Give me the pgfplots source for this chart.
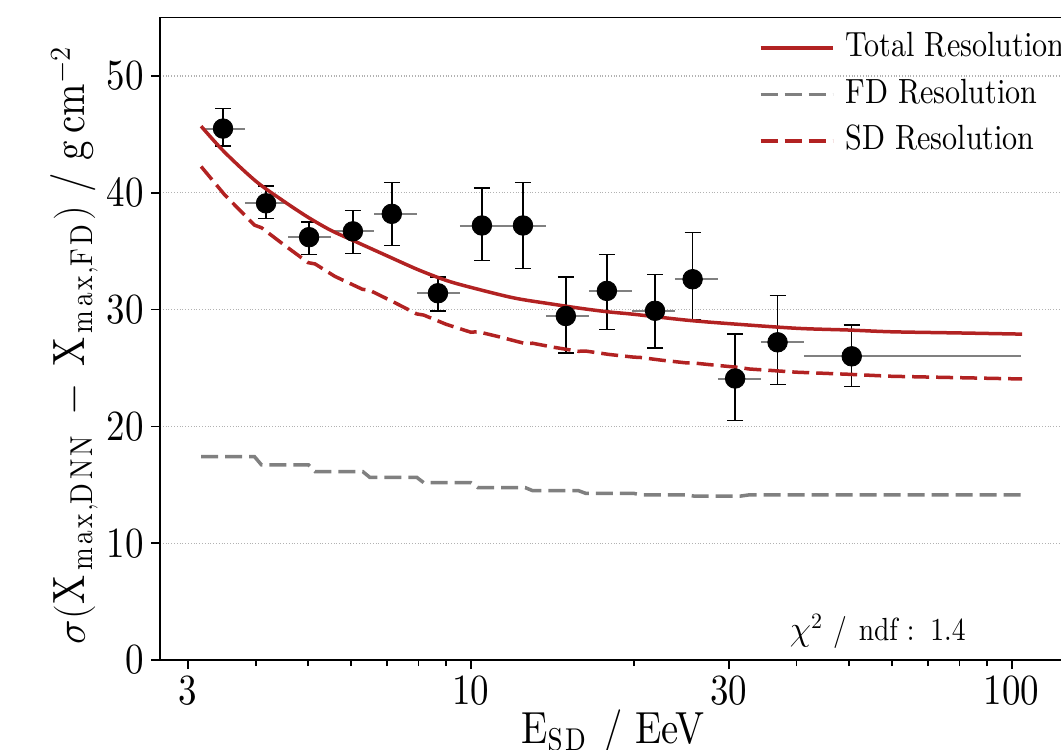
\documentclass[border=0pt]{standalone}
\usepackage{fontspec}
\setmainfont{lmroman10-regular.otf}[FakeStretch=0.86]
\usepackage{pgfplots}
\usepackage{pgfplotstable}
\pgfplotsset{compat=1.18}
\definecolor{fire}{RGB}{178,34,34}
\definecolor{fdgray}{RGB}{128,128,128}

\pgfplotstableread{
x y yp ym
3.48 45.5 1.7 1.5
4.18 39.1 1.5 1.3
5.02 36.2 1.3 1.5
6.05 36.7 1.8 1.9
7.14 38.2 2.7 2.7
8.69 31.4 1.4 1.5
10.48 37.2 3.2 3.0
12.48 37.2 3.7 3.7
14.98 29.45 3.35 3.15
17.84 31.6 3.1 3.3
21.9 29.9 3.1 3.2
25.7 32.6 4.0 3.5
30.8 24.1 3.8 3.6
36.9 27.2 4.0 3.6
50.6 26.0 2.7 2.6
}\datatab

\pgfplotstableread{
x y
3.22 45.5
3.82 45.5
3.82 nan
3.82 39.1
4.59 39.1
4.59 nan
4.59 36.2
5.51 36.2
5.51 nan
5.51 36.7
6.62 36.7
6.62 nan
6.62 38.2
7.95 38.2
7.95 nan
7.95 31.4
9.54 31.4
9.54 nan
9.54 37.2
11.46 37.2
11.46 nan
11.46 37.2
13.76 37.2
13.76 nan
13.76 29.45
16.52 29.45
16.52 nan
16.52 31.6
19.84 31.6
19.84 nan
19.84 29.9
23.83 29.9
23.83 nan
23.83 32.6
28.61 32.6
28.61 nan
28.61 24.1
34.36 24.1
34.36 nan
34.36 27.2
41.26 27.2
41.26 nan
41.26 26.0
104 26.0
}\bintab

\pgfplotstableread{
x y
3.17 45.7
3.5 43.5
4.0 41.0
4.5 39.3
5.0 37.9
5.5 36.8
6.0 36.0
7.0 34.6
8.0 33.4
9.0 32.5
10 31.9
12 31.0
14 30.5
16 30.1
18 29.8
20 29.6
25 29.1
30 28.8
40 28.4
50 28.25
60 28.1
80 28.0
104.5 27.9
}\tottab

\pgfplotstableread{
x y
3.17 17.41
3.98 17.41
4.10 16.70
5.01 16.70
5.15 16.13
6.31 16.13
6.50 15.64
7.94 15.64
8.18 15.18
10.0 15.18
10.3 14.76
12.6 14.76
13.0 14.50
15.8 14.50
16.3 14.27
20.0 14.27
20.6 14.13
25.1 14.13
25.8 14.04
31.6 14.04
32.6 14.13
104.5 14.13
}\fdtab

\pgfplotstableread{
x y
3.17 42.25
3.5 39.86
3.98 37.23
4.1 37.01
4.5 35.58
5.0 34.02
5.15 33.91
5.6 32.85
6.3 31.74
6.5 31.65
7.2 30.64
7.94 29.63
8.18 29.53
9 28.74
10 28.06
10.3 28.11
11.3 27.66
12.6 27.09
13.0 27.12
14.2 26.78
15.8 26.43
16.3 26.45
18 26.16
20 25.93
20.6 25.90
22.5 25.67
25 25.44
25.8 25.43
28 25.26
31.6 25.03
32.6 24.92
40 24.64
50 24.46
60 24.29
80 24.17
104.5 24.06
}\sdtab

\begin{document}
\begin{tikzpicture}
\begin{axis}[
  scale only axis,
  width=453pt, height=321.2pt,
  xmode=log,
  xmin=2.661, xmax=126,
  ymin=0, ymax=55,
  xtick={3,10,30,100},
  xticklabels={3,10,30,100},
  minor xtick={4,5,6,7,8,9,20,40,50,60,70,80,90},
  ytick={0,10,20,30,40,50},
  /pgf/number format/assume math mode=true,
  tick align=outside,
  xtick pos=left, ytick pos=left,
  major tick length=4.5pt,
  minor tick length=3pt,
  tick style={black, line width=0.8pt},
  axis line style={black, line width=0.85pt},
  ymajorgrids,
  grid style={densely dotted, black!30, line width=0.6pt},
  tick label style={font=\fontsize{21.5}{24}\selectfont},
  xlabel={E$_{\mathrm{SD}}$ / EeV},
  ylabel={$\sigma(\mathrm{X}_{\mathrm{max{,}DNN}}\,-\,\mathrm{X}_{\mathrm{max{,}FD}})$ / g\,cm$^{-2}$},
  xlabel style={font=\fontsize{22.5}{25}\selectfont, at={(axis description cs:0.5,0)}, anchor=base, yshift=-41.5pt},
  ylabel style={font=\fontsize{22.6}{25}\selectfont, at={(axis description cs:-0.083,0.49)}, anchor=base},
  unbounded coords=jump,
  legend style={draw=none, fill=none, at={(axis description cs:0.6611,0.9776)}, anchor=north west,
    font=\fontsize{17.5}{20}\selectfont, inner sep=0pt, outer sep=0pt,
    nodes={inner sep=0pt, text height=12.5pt, text depth=3.5pt},
    row sep=7.25pt, column sep=5.5pt},
  legend cell align=left,
  legend image code/.code={\draw[#1] (0pt,0pt) -- (36pt,0pt);},
]
\addplot[forget plot, fdgray, line width=1pt] table[x=x,y=y]{\bintab};
\addplot[forget plot, only marks, mark=none,
  error bars/.cd, y dir=both, y explicit,
  error bar style={black, line width=0.75pt},
  error mark options={rotate=90, mark size=4pt, line width=0.75pt, black}]
  table[x=x, y=y, y error plus=yp, y error minus=ym]{\datatab};
\addplot[forget plot, only marks, mark=*, mark size=4.9pt, black] table[x=x,y=y]{\datatab};
\addplot[fire, line width=1.75pt, smooth, tension=0.5] table[x=x,y=y]{\tottab};
\addlegendentry{Total Resolution}
\addplot[fdgray, line width=1.75pt, dash pattern=on 8.5pt off 3.5pt] table[x=x,y=y]{\fdtab};
\addlegendentry{FD Resolution}
\addplot[fire, line width=1.75pt, dash pattern=on 8.5pt off 3.5pt] table[x=x,y=y]{\sdtab};
\addlegendentry{SD Resolution}
\node[anchor=base east, font=\fontsize{16}{18}\selectfont] at (axis cs:84.7,1.63) {$\chi^2$\hspace{5pt}/\hspace{6pt}ndf\hspace{4.5pt}:\hspace{8pt}1.4};
\coordinate (O) at (rel axis cs:0,0);
\end{axis}
\pgfresetboundingbox
\path[use as bounding box] (O) ++(-80pt,-45pt) rectangle ++(530.5pt,375pt);
\end{tikzpicture}
\end{document}
